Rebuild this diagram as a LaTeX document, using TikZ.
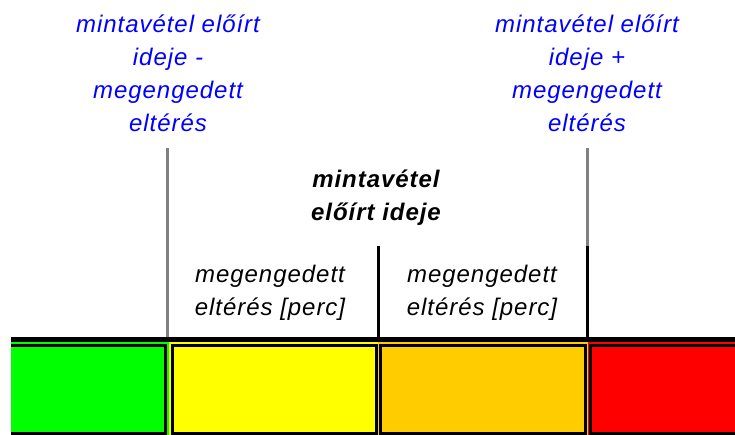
\documentclass[tikz,border=0pt]{standalone}
\usepackage{fontspec}
\setmainfont{Liberation Sans}[LetterSpace=4]
\definecolor{okgreen}{RGB}{0,255,0}
\definecolor{warnyellow}{RGB}{255,255,0}
\definecolor{warnorange}{RGB}{255,204,0}
\definecolor{badred}{RGB}{255,0,0}
\definecolor{limitblue}{RGB}{0,0,255}
\definecolor{limitgray}{RGB}{128,128,128}
\tikzset{
  lbl/.style={align=center, anchor=base, inner sep=0pt,
    font=\fontsize{24}{33}\selectfont\itshape},
  limitlbl/.style={lbl, text=limitblue},
  headlbl/.style={lbl, font=\fontsize{24}{33}\selectfont\bfseries\itshape},
  zone/.style={draw=#1, line width=1pt, fill=#1},
  zoneedge/.style={draw=black, line width=3pt},
  marker/.style={line width=3pt},
}
\begin{document}
\begin{tikzpicture}[x=1pt,y=-1pt]
\useasboundingbox (0,0) rectangle (735,435);

% colour zones of the time scale
\begin{scope}
  \clip (11,0) rectangle (735,435);
  \draw[zone=okgreen]    (11.5,342.5) rectangle (168.5,436);
  \draw[zone=warnyellow] (169.5,342.5) rectangle (377.5,436);
  \draw[zone=warnorange] (378.5,342.5) rectangle (587.5,436);
  \draw[zone=badred]     (588.5,342.5) rectangle (740,436);
  \draw[zoneedge] (5,345) rectangle (165.5,433.5);
  \draw[zoneedge] (172,345) rectangle (376,433.5);
  \draw[zoneedge] (380.5,345) rectangle (585,433.5);
  \draw[zoneedge] (590.5,345) rectangle (745,433.5);
\end{scope}

% time axis
\draw[line width=5pt] (11,339.5) -- (735,339.5);

% markers on the axis
\coordinate (lowTop) at (167.5,148);
\coordinate (lowAxis) at (167.5,337);
\coordinate (midTop) at (378,246);
\coordinate (midAxis) at (378,337);
\coordinate (highTop) at (587,148);
\coordinate (highMid) at (587,246);
\coordinate (highAxis) at (587,337);
\draw[marker, limitgray] (lowTop) -- (lowAxis);
\draw[marker, black] (midTop) -- (midAxis);
\draw[marker, limitgray] (highTop) -- (highMid);
\draw[marker, black] (highMid) -- (highAxis);

% labels (anchored at the baseline of their last line)
\node[limitlbl] (lowLimit) at (168,132)
  {mintavétel előírt\\ideje -\\megengedett\\eltérés};
\node[limitlbl] (highLimit) at (587,132)
  {mintavétel előírt\\ideje +\\megengedett\\eltérés};
\node[headlbl] (target) at (376,221) {mintavétel\\előírt ideje};
\node[lbl] (lowTol) at (270,315) {megengedett\\eltérés [perc]};
\node[lbl] (highTol) at (482,315) {megengedett\\eltérés [perc]};
\end{tikzpicture}
\end{document}
